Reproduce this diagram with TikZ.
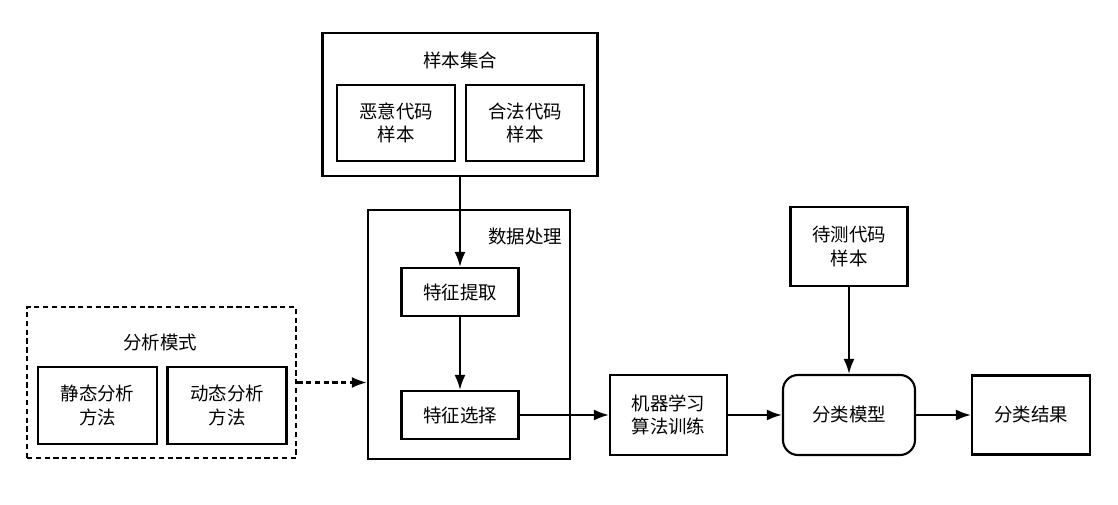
\documentclass[tikz,border=0pt]{standalone}
\usepackage{fontspec}
\usepackage{tikz}
\usetikzlibrary{arrows, arrows.meta, positioning, calc}
\newfontfamily\cjk{Noto Sans CJK SC}

\begin{document}
\begin{tikzpicture}[>={Latex[length=3mm,width=2.2mm]}, font=\cjk\fontsize{10.5}{13.5}\selectfont,
    box/.style={draw, line width=1.2pt, rectangle, minimum width=2.36cm, minimum height=1.56cm, align=center},
    flat/.style={draw, line width=1.2pt, rectangle, minimum width=2.34cm, minimum height=0.96cm, align=center},
    link/.style={->, line width=1.2pt}]
    \useasboundingbox (0,0) rectangle (22.36,10.1);

    % Sample set (outer frame with two samples)
    \node[draw, line width=1.2pt, rectangle, minimum width=5.5cm, minimum height=2.86cm] (samples) at (9.2,8.01) {};
    \node (samplestitle) at (9.2,8.9) {样本集合};
    \node[box, minimum width=2.36cm, minimum height=1.52cm] (malicious) at (7.92,7.64) {恶意代码\\样本};
    \node[box, minimum width=2.36cm, minimum height=1.52cm] (benign) at (10.5,7.64) {合法代码\\样本};

    % Data processing frame
    \node[draw, line width=1.2pt, rectangle, minimum width=4.04cm, minimum height=4.98cm] (proc) at (9.38,3.41) {};
    \node (proctitle) at (10.5,5.36) {数据处理};
    \node[flat] (extract) at (9.2,4.26) {特征提取};
    \node[flat] (select) at (9.2,1.8) {特征选择};

    % Analysis mode (dashed frame)
    \node[draw, line width=1.4pt, dash pattern=on 3pt off 2pt, rectangle, minimum width=5.38cm, minimum height=3.02cm] (mode) at (3.23,2.45) {};
    \node (modetitle) at (3.2,3.24) {分析模式};
    \node[box, minimum width=2.38cm, minimum height=1.54cm] (static) at (1.95,1.99) {静态分析\\方法};
    \node[box, minimum width=2.38cm, minimum height=1.54cm] (dynamic) at (4.54,1.99) {动态分析\\方法};

    % Training, model and result
    \node[box, minimum width=2.34cm, minimum height=1.6cm] (train) at (13.37,1.8) {机器学习\\算法训练};
    \node[box, rounded corners=0.3cm, minimum width=2.64cm, minimum height=1.6cm] (model) at (16.98,1.8) {分类模型};
    \node[box, minimum width=2.34cm, minimum height=1.58cm] (test) at (16.98,5.17) {待测代码\\样本};
    \node[box, minimum width=2.36cm, minimum height=1.58cm] (result) at (20.62,1.8) {分类结果};

    % Arrows
    \draw[link] (samples.south) -- (extract.north);
    \draw[link] (extract.south) -- (select.north);
    \draw[link, line width=1.4pt, dash pattern=on 3pt off 2pt] (mode.east) -- (mode.east -| proc.west);
    \draw[link] (select.east) -- (train.west);
    \draw[link] (train.east) -- (model.west);
    \draw[link] (test.south) -- (model.north);
    \draw[link] (model.east) -- (result.west);
\end{tikzpicture}
\end{document}
